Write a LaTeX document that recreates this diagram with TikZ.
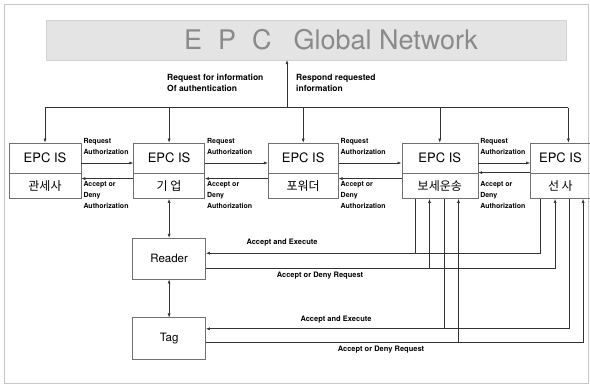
\documentclass[tikz,border=0pt]{standalone}
\usepackage{fontspec}
\setmainfont{TeX Gyre Heros}
\newfontfamily\krfont{Noto Sans CJK KR}
\usetikzlibrary{arrows.meta,positioning,calc}
\definecolor{LineGray}{HTML}{333333}
\definecolor{BoxGray}{HTML}{707070}
\definecolor{BannerFill}{HTML}{E4E4E4}
\definecolor{BannerText}{HTML}{8A8A8A}

\begin{document}
\begin{tikzpicture}[x=1pt, y=-1pt, node distance=0pt,
  isbox/.style={draw=BoxGray, line width=0.6pt, minimum height=30pt,
                inner sep=0pt, font=\fontsize{13}{13}\selectfont},
  subbox/.style={draw=BoxGray, line width=0.6pt, minimum height=25pt,
                 inner sep=0pt, font=\krfont\fontsize{12}{12}\selectfont},
  devbox/.style={draw=BoxGray, line width=0.6pt, minimum width=73pt,
                 minimum height=41pt, inner sep=0pt, font=\fontsize{11.5}{11.5}\selectfont},
  authlbl/.style={font=\fontsize{7}{11}\selectfont\bfseries, align=left, inner sep=0pt},
  netlbl/.style={font=\fontsize{8.5}{11}\selectfont\bfseries, align=left, inner sep=0pt, anchor=north west},
  flowlbl/.style={font=\fontsize{7.5}{9}\selectfont\bfseries, inner sep=0pt},
  link/.style={draw=LineGray, line width=0.6pt},
  arr/.style={link, -{Latex[length=4pt,width=3pt]}},
  dbl/.style={link, {Latex[length=4pt,width=3pt]}-{Latex[length=4pt,width=3pt]}}]
  \useasboundingbox (0,0) rectangle (590,385);
  \draw[gray!45, line width=0.5pt] (4,4) rectangle (588,383);

  % global network banner
  \node[draw=gray!35, fill=BannerFill, minimum width=520pt, minimum height=40pt,
        inner sep=0pt] (net) at (306,40) {};
  \node[font=\fontsize{27}{27}\selectfont, text=BannerText] (nettitle) at (331,40)
    {E\hspace{16pt}P\hspace{16pt}C\hspace{22pt}Global Network};

  % EPC IS boxes
  \node[isbox, minimum width=72pt] (b1) at (45,158) {EPC IS};
  \node[subbox, minimum width=72pt, below=of b1] (b1k) {관세사};
  \node[isbox, minimum width=71pt, right=52pt of b1] (b2) {EPC IS};
  \node[subbox, minimum width=71pt, below=of b2] (b2k) {기 업};
  \node[isbox, minimum width=70pt, right=63pt of b2] (b3) {EPC IS};
  \node[subbox, minimum width=70pt, below=of b3] (b3k) {포워더};
  \node[isbox, minimum width=76pt, right=63pt of b3] (b4) {EPC IS};
  \node[subbox, minimum width=76pt, below=of b4] (b4k) {보세운송};
  \node[isbox, minimum width=60pt, right=52pt of b4] (b5) {EPC IS};
  \node[subbox, minimum width=60pt, below=of b5] (b5k) {선 사};

  % reader and tag
  \node[devbox, below=39pt of b2k] (reader) {Reader};
  \node[devbox, below=38pt of reader] (tag) {Tag};

  % bus to the network
  \coordinate (busL) at ([yshift=35pt]b1.north);
  \coordinate (drop5) at ([xshift=8pt]b5.north);
  \coordinate (busR) at (drop5 |- busL);
  \coordinate (netfoot) at (287,108);
  \draw[link] (busL) -- (busR);
  \draw[arr] (netfoot) -- (netfoot |- net.south);
  \foreach \b in {b1,b2,b3,b4}
    \draw[arr] (\b.north |- busL) -- (\b.north);
  \draw[arr] (busR) -- (drop5);
  \node[netlbl] (qnet) at (167,74) {Request for information\\Of authentication};
  \node[netlbl] (rnet) at (296,74) {Respond requested\\information};

  % authorization between neighbours
  \foreach \a/\c in {b1/b2,b2/b3,b3/b4,b4/b5}{
    \draw[arr] ([yshift=-5pt]\a.east) -- ([yshift=-5pt]\c.west);
    \node[authlbl, anchor=south west] at ([xshift=2pt,yshift=3pt]\a.east) {Request\\Authorization};
    \node[authlbl, anchor=north west] at ([xshift=2pt,yshift=4.5pt]\a k.east) {Accept or\\Deny\\Authorization};
  }
  \foreach \a/\c/\s in {b1/b2/7.5,b2/b3/7.5,b3/b4/7.5,b4/b5/13.5}
    \draw[arr] ([yshift=\s pt]\c k.west) -- ([yshift=\s pt]\a k.west -| \a k.east);

  % company to reader to tag
  \draw[dbl] (b2k.south) -- (reader.north);
  \draw[dbl] (reader.south) -- (tag.north);

  % taps under the two right boxes
  \coordinate (s4a) at ([xshift=14pt]b4k.south west);
  \coordinate (s4b) at ([xshift=28pt]b4k.south west);
  \coordinate (s4c) at ([xshift=43pt]b4k.south west);
  \coordinate (s4d) at ([xshift=57pt]b4k.south west);
  \coordinate (s5a) at ([xshift=10pt]b5k.south west);
  \coordinate (s5b) at ([xshift=25pt]b5k.south west);
  \coordinate (s5c) at ([xshift=39pt]b5k.south west);
  \coordinate (s5d) at ([xshift=53pt]b5k.south west);
  \coordinate (rIn) at ([yshift=5.5pt]reader.east);
  \coordinate (rOut) at ([yshift=-9.5pt]reader.east);
  \coordinate (tIn) at ([yshift=9.5pt]tag.east);
  \coordinate (tOut) at ([yshift=-4.5pt]tag.east);

  \draw[arr] (s5a) |- (rIn);
  \draw[link] (s4a) -- (s4a |- rIn);
  \draw[arr] (rOut) -| (s5b);
  \draw[arr] (s4b |- rOut) -- (s4b);
  \draw[arr] (s5c) |- (tIn);
  \draw[link] (s4c) -- (s4c |- tIn);
  \draw[arr] (tOut) -| (s5d);
  \draw[arr] (s4d |- tOut) -- (s4d);

  \node[flowlbl] (aer) at (282,243) {Accept and Execute};
  \node[flowlbl] (adr) at (320,276) {Accept or Deny Request};
  \node[flowlbl] (aet) at (336,320) {Accept and Execute};
  \node[flowlbl] (adt) at (381,350) {Accept or Deny Request};
\end{tikzpicture}
\end{document}
